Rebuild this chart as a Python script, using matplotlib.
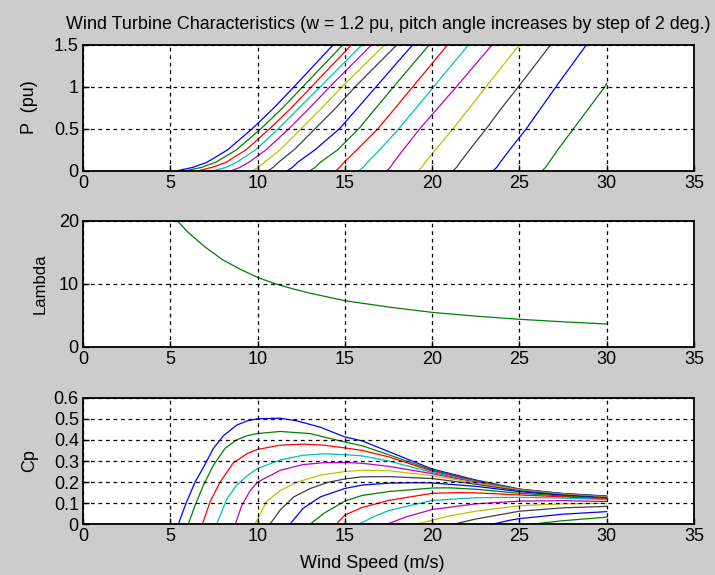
import matplotlib
matplotlib.use("Agg")
import matplotlib.pyplot as plt

plt.rcParams['font.family'] = ['Liberation Sans', 'DejaVu Sans']

# ---------------- data ----------------
title_text = "Wind Turbine Characteristics (w = 1.2 pu, pitch angle increases by step of 2 deg.)"
x_ticks = [0, 5, 10, 15, 20, 25, 30, 35]
p_ticks = [0, 0.5, 1, 1.5]
lambda_ticks = [0, 10, 20]
cp_ticks = [0, 0.1, 0.2, 0.3, 0.4, 0.5, 0.6]

line_colors = ['#0000ff', '#008000', '#ff0000', '#00bfbf', '#bf00bf', '#bfbf00', '#404040']

# Power curves (one per pitch angle 0, 2, ..., 30 deg): wind speed at given power levels
p_levels = [0, 0.04, 0.1, 0.25, 0.5, 0.75, 1.0, 1.5]
p_speed = [
    [5.4, 6.3, 7.1, 8.3, 9.7, 10.95, 12.1, 14.35],
    [5.9, 6.8, 7.6, 8.8, 10.2, 11.45, 12.6, 14.9],
    [6.6, 7.4, 8.2, 9.35, 10.7, 11.95, 13.1, 15.4],
    [7.5, 8.2, 8.8, 9.9, 11.2, 12.4, 13.6, 16.0],
    [8.5, 9.0, 9.5, 10.5, 11.8, 13.0, 14.15, 16.55],
    [9.7, 10.05, 10.4, 11.3, 12.5, 13.7, 14.85, 17.3],
    [10.6, 10.9, 11.2, 12.1, 13.3, 14.5, 15.6, 18.0],
    [11.7, 12.0, 12.3, 13.3, 14.7, 15.75, 16.8, 18.9],
    [13.0, 13.3, 13.6, 14.6, 15.8, 16.8, 17.8, 19.85],
    [14.5, 14.7, 14.95, 15.7, 16.9, 17.9, 18.9, 20.9],
    [15.8, 16.05, 16.3, 17.0, 18.1, 19.1, 20.1, 22.1],
    [17.4, 17.6, 17.8, 18.35, 19.3, 20.35, 21.4, 23.45],
    [19.2, 19.4, 19.6, 20.2, 21.2, 22.15, 23.1, 25.0],
    [21.2, 21.4, 21.6, 22.15, 23.1, 24.0, 24.95, 26.8],
    [23.5, 23.7, 23.9, 24.45, 25.4, 26.25, 27.1, 28.85],
    [26.3, 26.5, 26.7, 27.2, 28.1, 29.0, 29.9, 30.0],
]
p_last_curve_levels = [0, 0.04, 0.1, 0.25, 0.5, 0.75, 1.0, 1.04]

# Tip speed ratio
lambda_speed = [5.4, 6, 7, 8, 9, 10, 11, 12, 13, 14, 15, 17.5, 20, 22.5, 25, 27.5, 30]
lambda_vals = [20, 18.2, 15.8, 13.8, 12.3, 11.0, 10.0, 9.2, 8.5, 7.9, 7.3, 6.3, 5.45, 4.85, 4.35, 3.95, 3.6]

# Power coefficient curves
cp_speed = [
    [5.46, 5.7, 5.94, 6.42, 6.9, 7.47, 8.05, 8.8, 9.4, 10, 11.3, 12.26, 13.6, 15, 16, 17.5, 20, 22.5, 25, 27.5, 30],
    [6.03, 6.42, 6.9, 7.47, 8.14, 8.8, 9.4, 10, 11.3, 13, 15, 16, 17.5, 20, 22.5, 25, 27.5, 30],
    [6.84, 7.28, 7.85, 8.6, 9.4, 10, 11.3, 12.6, 13.8, 15, 16, 17.5, 20, 22.5, 25, 27.5, 30],
    [7.66, 8.24, 8.8, 9.4, 10, 11.3, 12.6, 13.8, 15, 16, 17.5, 20, 22.5, 25, 27.5, 30],
    [8.72, 9.1, 9.58, 10, 11.3, 12.6, 13.8, 15, 16, 17.5, 20, 22.5, 25, 27.5, 30],
    [9.85, 10.5, 11.3, 12.26, 13.6, 15, 16, 17.5, 20, 22.5, 25, 27.5, 30],
    [10.7, 11.3, 12.07, 13.03, 14, 15, 16, 17.5, 20, 22.5, 25, 27.5, 30],
    [11.85, 12.6, 13.6, 15, 16, 17.5, 19, 20, 22.5, 25, 27.5, 30],
    [13.0, 13.8, 15, 16, 17.5, 20, 21, 22.5, 25, 27.5, 30],
    [14.5, 15, 16, 17.5, 20, 21.5, 22.5, 25, 27.5, 30],
    [15.8, 16.5, 17.5, 20, 22.5, 25, 27.5, 30],
    [17.4, 18.5, 20, 22.5, 25, 27.5, 30],
    [19.0, 20, 21, 22.5, 25, 27.5, 30],
    [21.2, 22.5, 25, 27.5, 30],
    [23.4, 24.5, 25, 27.5, 30],
    [25.7, 26.5, 27.5, 30],
]
cp_vals = [
    [0, 0.055, 0.107, 0.2, 0.27, 0.36, 0.42, 0.47, 0.49, 0.5, 0.503, 0.49, 0.46, 0.414, 0.395, 0.345, 0.262, 0.21, 0.167, 0.146, 0.134],
    [0, 0.09, 0.185, 0.28, 0.36, 0.40, 0.42, 0.43, 0.44, 0.43, 0.39, 0.372, 0.33, 0.257, 0.207, 0.166, 0.145, 0.133],
    [0, 0.107, 0.2, 0.29, 0.335, 0.355, 0.375, 0.38, 0.375, 0.362, 0.35, 0.32, 0.252, 0.205, 0.165, 0.144, 0.131],
    [0, 0.12, 0.185, 0.23, 0.265, 0.305, 0.327, 0.334, 0.33, 0.324, 0.3, 0.246, 0.202, 0.164, 0.143, 0.13],
    [0, 0.09, 0.16, 0.2, 0.256, 0.283, 0.292, 0.293, 0.289, 0.275, 0.24, 0.199, 0.163, 0.142, 0.129],
    [0, 0.107, 0.16, 0.2, 0.233, 0.25, 0.256, 0.254, 0.23, 0.196, 0.162, 0.141, 0.128],
    [0, 0.068, 0.13, 0.17, 0.198, 0.215, 0.225, 0.226, 0.217, 0.19, 0.159, 0.139, 0.126],
    [0, 0.075, 0.13, 0.17, 0.186, 0.195, 0.197, 0.196, 0.18, 0.155, 0.137, 0.124],
    [0, 0.052, 0.11, 0.137, 0.155, 0.172, 0.173, 0.166, 0.147, 0.134, 0.122],
    [0, 0.044, 0.08, 0.113, 0.147, 0.15, 0.149, 0.139, 0.13, 0.12],
    [0, 0.03, 0.065, 0.113, 0.126, 0.128, 0.124, 0.117],
    [0, 0.035, 0.07, 0.097, 0.11, 0.112, 0.108],
    [0, 0.019, 0.04, 0.062, 0.088, 0.097, 0.1],
    [0, 0.025, 0.062, 0.078, 0.085],
    [0, 0.02, 0.027, 0.048, 0.06],
    [0, 0.008, 0.017, 0.034],
]

# ---------------- figure ----------------
W, H = 715, 575
fig = plt.figure(figsize=(W / 100, H / 100), dpi=100, facecolor='#cccccc')

def frac(x0, y0, x1, y1):
    return [x0 / W, 1 - y1 / H, (x1 - x0) / W, (y1 - y0) / H]

ax1 = fig.add_axes(frac(83, 44.5, 694, 170.7))
ax2 = fig.add_axes(frac(83, 220.7, 694, 346.7))
ax3 = fig.add_axes(frac(83, 397.7, 694, 524.3))

FS = 13
for ax in (ax1, ax2, ax3):
    ax.set_facecolor('white')
    ax.set_xlim(0, 35)
    ax.set_xticks(x_ticks)
    ax.grid(True, color='black', linestyle=(0, (3, 3)), linewidth=0.9)
    ax.set_axisbelow(False)
    for s in ax.spines.values():
        s.set_linewidth(1.3)
        s.set_color('black')
    ax.tick_params(direction='in', length=4, width=1, labelsize=FS, pad=3,
                   top=False, right=False)

LW = 0.9
for i, vs in enumerate(p_speed):
    lv = p_last_curve_levels if i == len(p_speed) - 1 else p_levels
    ax1.plot(vs, lv, color=line_colors[i % 7], lw=LW, zorder=1)
ax1.set_ylim(0, 1.5)
ax1.set_yticks(p_ticks)
ax1.set_yticklabels(['0', '0.5', '1', '1.5'])
ax1.set_ylabel('P  (pu)', fontsize=FS)
ax1.yaxis.set_label_coords(-45 / 611, 0.5)
ax1.set_title(title_text, fontsize=12.9, pad=11)

ax2.plot(lambda_speed, lambda_vals, color='#008000', lw=LW, zorder=1)
ax2.set_ylim(0, 20)
ax2.set_yticks(lambda_ticks)
ax2.set_ylabel('Lambda', fontsize=FS - 1)
ax2.yaxis.set_label_coords(-35 / 611, 0.5)

for i, (vs, cs) in enumerate(zip(cp_speed, cp_vals)):
    ax3.plot(vs, cs, color=line_colors[i % 7], lw=LW, zorder=1)
ax3.set_ylim(0, 0.6)
ax3.set_yticks(cp_ticks)
ax3.set_yticklabels(['0', '0.1', '0.2', '0.3', '0.4', '0.5', '0.6'])
ax3.set_ylabel('Cp', fontsize=FS)
ax3.yaxis.set_label_coords(-45 / 611, 0.5)
ax3.set_xlabel('Wind Speed (m/s)', fontsize=FS)
ax3.xaxis.set_label_coords(0.473, -0.245)

fig.savefig('out.png', dpi=100, facecolor=fig.get_facecolor())
